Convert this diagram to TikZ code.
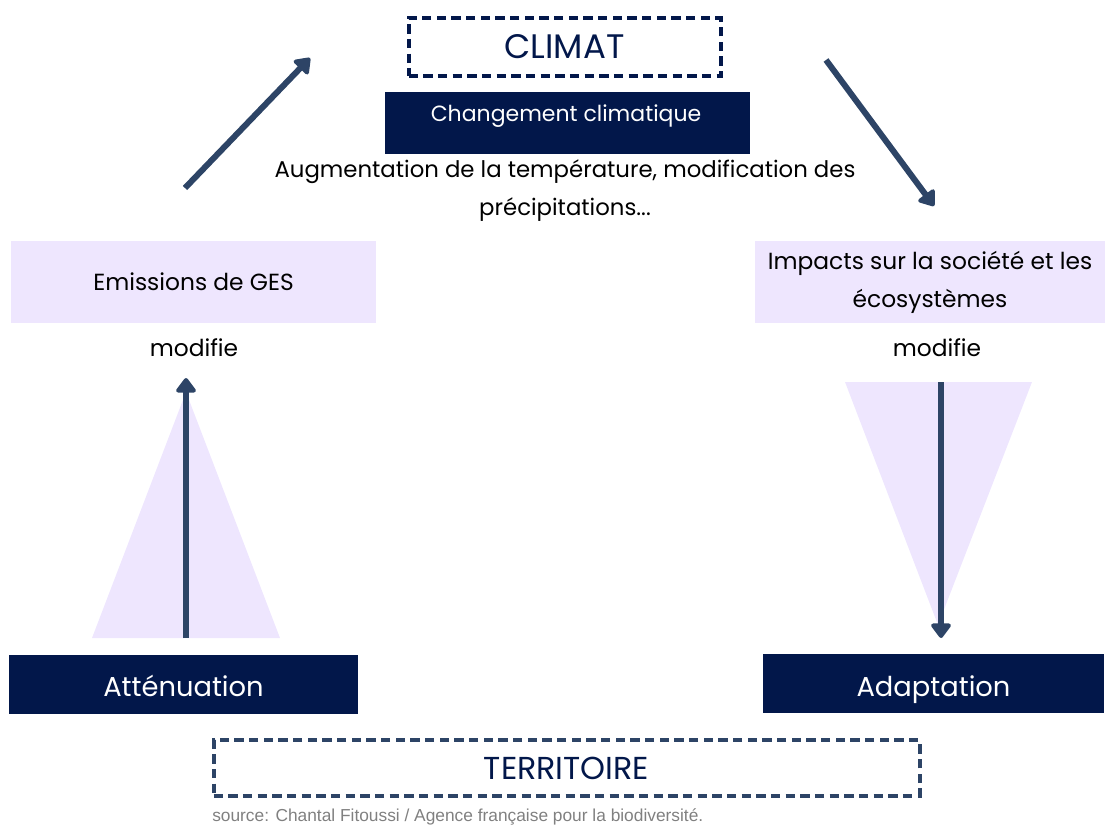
\documentclass[tikz,border=0pt]{standalone}
\usepackage{fontspec}
\setmainfont{Poppins}
\newfontfamily\srcfont{Liberation Sans}
\usepackage{tikz}
\usetikzlibrary{arrows.meta,positioning}

\definecolor{navy}{HTML}{02174A}
\definecolor{slate}{HTML}{2D4466}
\definecolor{lavender}{HTML}{EEE6FE}

\begin{document}
\begin{tikzpicture}[x=0.75pt,y=-0.75pt,
  darkbox/.style={fill=navy, text=white, inner sep=0pt, text height=19pt, text depth=0pt,
    font=\fontsize{20.5}{24}\selectfont},
  lightbox/.style={fill=lavender, inner sep=0pt, align=center},
  dashbox/.style={draw, line width=3pt, dash pattern=on 7pt off 4pt, inner sep=0pt, text=navy},
  flow/.style={draw=slate, line width=4.5pt, -{Triangle[length=12pt,width=17pt,round]}},
  txt/.style={font=\fontsize{17.5}{28.5}\selectfont, align=center}]

\useasboundingbox (0,0) rectangle (1105,827);

% triangles behind the vertical arrows
\fill[lavender] (92,638) -- (280,638) -- (186,392) -- cycle;
\fill[lavender] (845,382) -- (1032,382) -- (938,625) -- cycle;

% climat
\node[dashbox, draw=navy, minimum width=234pt, minimum height=44pt,
  font=\fontsize{25.5}{30}\selectfont] (climat) at (564.5,47) {CLIMAT};
\node[darkbox, minimum width=273.75pt, minimum height=46.5pt] (changement) at (567.5,123) {};
\node[txt, text=white, font=\fontsize{16.5}{20}\selectfont] (chgtxt) at (566,116) {Changement climatique};
\node[txt, font=\fontsize{17.1}{28.5}\selectfont] (augm) at (565,191) {Augmentation de la température, modification des\\précipitations...};

% left side
\node[lightbox, minimum width=273.75pt, minimum height=61.5pt, txt] (ges) at (193.5,282) {Emissions de GES};
\node[txt] (modg) at (194,348) {modifie};
\node[darkbox, minimum width=261.75pt, minimum height=44.25pt] (attenuation) at (183.5,684) {Atténuation};

% right side
\node[lightbox, minimum width=262.5pt, minimum height=61.5pt, txt] (impacts) at (930,282) {Impacts sur la société et les\\écosystèmes};
\node[txt] (modd) at (937,348) {modifie};
\node[darkbox, minimum width=255.75pt, minimum height=44.25pt] (adaptation) at (933.5,683.5) {Adaptation};

% territoire
\node[dashbox, draw=slate, minimum width=529.5pt, minimum height=41.5pt,
  font=\fontsize{23.8}{28}\selectfont] (territoire) at (566.5,768) {TERRITOIRE};
\node[anchor=base west, text=gray, font=\srcfont\fontsize{13}{15}\selectfont, inner sep=0pt]
  (source) at (212,821) {source: Chantal Fitoussi / Agence française pour la biodiversité.};

% arrows
\coordinate (ges-out) at (185,188);
\coordinate (climat-in) at (310,58);
\coordinate (climat-out) at (826,60);
\coordinate (impacts-in) at (934,206);
\coordinate (att-out) at (186,638);
\coordinate (ges-in) at (186,378);
\coordinate (impacts-out) at (941,382);
\coordinate (adapt-in) at (941,638);

\draw[flow] (ges-out) -- (climat-in);
\draw[flow] (climat-out) -- (impacts-in);
\draw[flow] (att-out) -- (ges-in);
\draw[flow] (impacts-out) -- (adapt-in);

\end{tikzpicture}
\end{document}
